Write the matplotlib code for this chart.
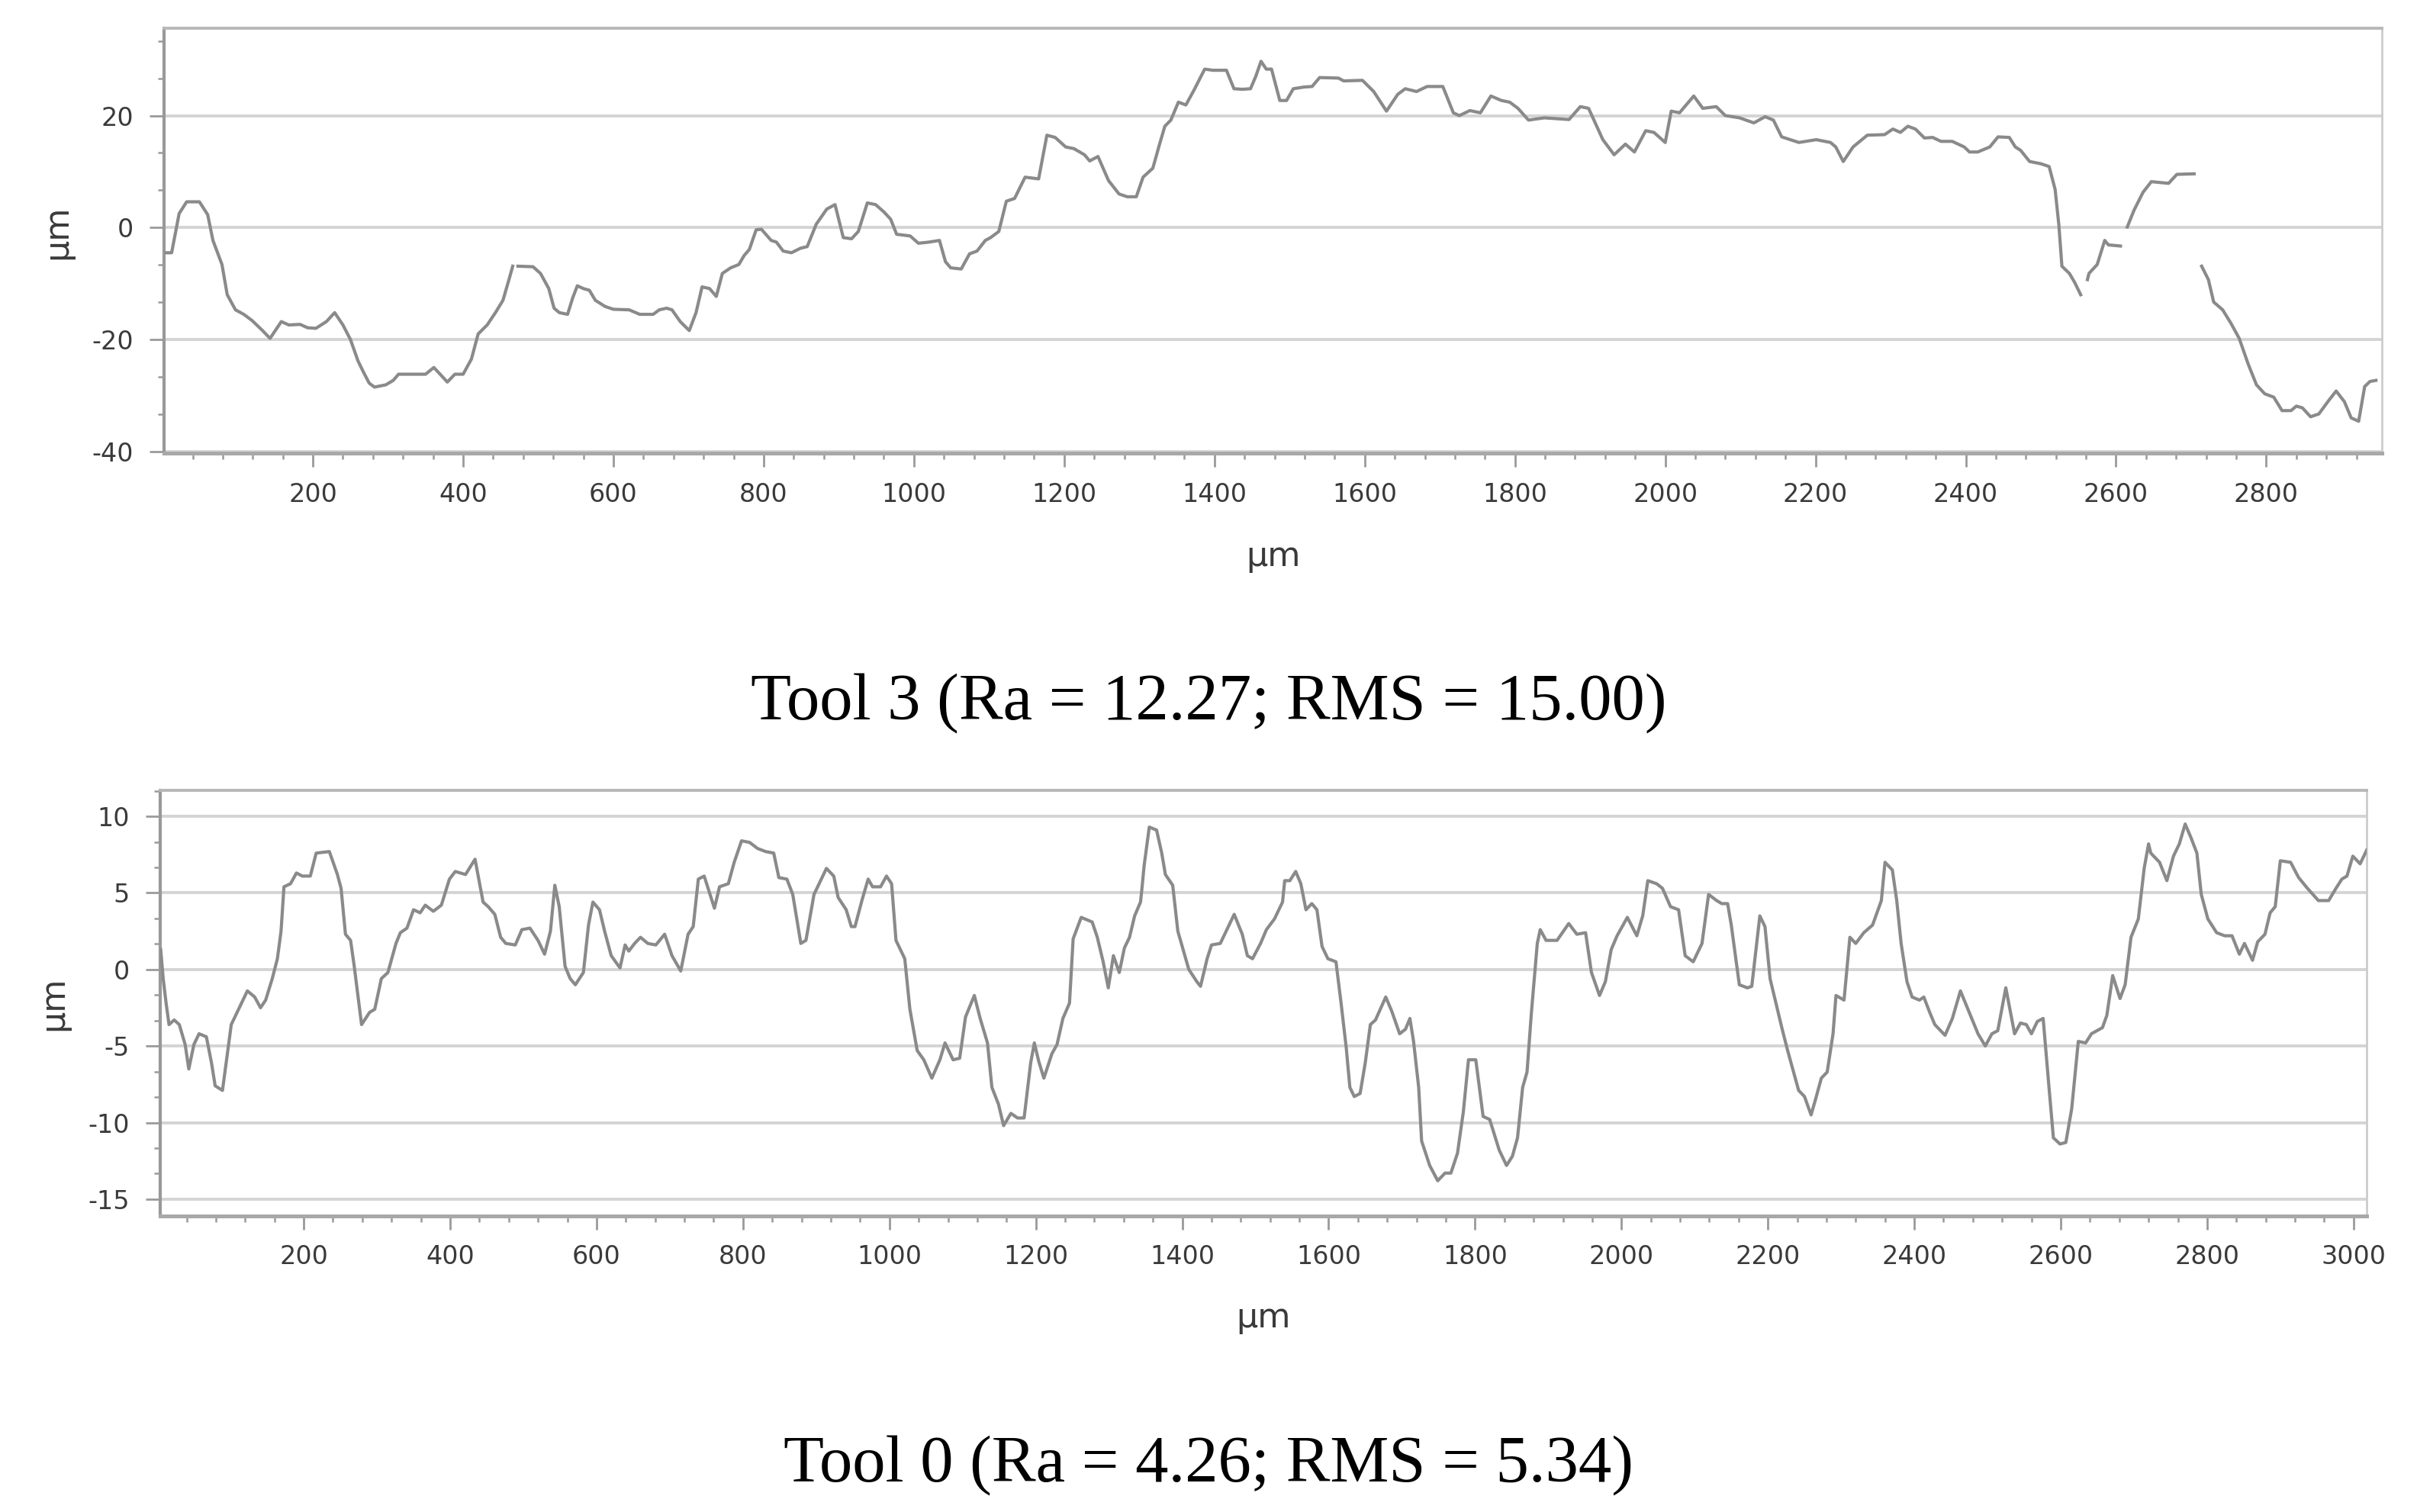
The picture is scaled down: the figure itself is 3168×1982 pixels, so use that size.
import numpy as np
import matplotlib
matplotlib.use("Agg")
import matplotlib.pyplot as plt
from matplotlib.ticker import MultipleLocator

plt.rcParams['axes.unicode_minus'] = False
plt.rcParams['font.family'] = ['DejaVu Sans']

nan = np.nan

# Tool 3 profile (x in um, height in um); nan marks gaps in the trace
tool3_x = [4.6, 12, 22, 32, 49, 60, 67, 79, 86, 97, 108, 119, 133, 143, 158, 168, 183, 193, 204, 218,
           229, 240, 250, 260, 268, 275, 282, 297, 307, 314, 350, 361, 368, 379, 389, 400, 411, 420, 432,
           443, 453, 461, 466, 469, 473, 493, 503, 514, 521, 528, 539, 546, 552, 560, 568, 576, 589, 600,
           621, 635, 653, 661, 671, 678, 689, 701, 710, 718, 728, 737, 745, 756, 767, 774, 781, 790, 797,
           810, 817, 826, 837, 849, 858, 870, 884, 895, 906, 917, 926, 938, 949, 960, 969, 977, 995, 1006,
           1020, 1034, 1042, 1049, 1063, 1074, 1084, 1095, 1102, 1113, 1123, 1134, 1148, 1166, 1177, 1188,
           1202, 1213, 1227, 1234, 1245, 1259, 1273, 1284, 1296, 1305, 1318, 1327, 1334, 1342, 1352, 1362,
           1373, 1387, 1398, 1416, 1426, 1437, 1448, 1455, 1462, 1469, 1476, 1487, 1496, 1505, 1519, 1530,
           1540, 1565, 1572, 1597, 1612, 1629, 1644, 1654, 1669, 1683, 1704, 1718, 1726, 1740, 1754, 1768,
           1782, 1793, 1804, 1818, 1839, 1872, 1887, 1898, 1917, 1932, 1947, 1959, 1974, 1985, 2000, 2008,
           2019, 2038, 2050, 2068, 2080, 2099, 2118, 2133, 2144, 2155, 2178, 2201, 2220, 2227, 2237, 2250,
           2269, 2292, 2303, 2313, 2323, 2333, 2345, 2356, 2367, 2382, 2398, 2405, 2416, 2432, 2443, 2458,
           2466, 2473, 2485, 2500, 2511, 2519, 2524, 2528, 2538, 2545, 2553, 2557, 2562, 2564, 2575, 2585,
           2590, 2606, 2610, 2615, 2624, 2636, 2647, 2670, 2681, 2704, 2709, 2714, 2723, 2730, 2742, 2753,
           2764, 2776, 2787, 2798, 2810, 2821, 2833, 2840, 2848, 2859, 2870, 2882, 2893, 2904, 2913, 2923,
           2931, 2938, 2946]
tool3_y = [-4.5, -4.5, 2.5, 4.6, 4.6, 2.3, -2.3, -6.6, -12, -14.7, -15.5, -16.6, -18.4, -19.8, -16.8,
           -17.4, -17.3, -17.9, -18, -16.8, -15.2, -17.4, -20, -23.8, -26, -27.8, -28.5, -28.1, -27.3,
           -26.2, -26.2, -25, -26, -27.6, -26.2, -26.2, -23.5, -19, -17.4, -15.2, -13, -9.3, -6.9, nan,
           -6.9, -7, -8.2, -10.9, -14.4, -15.2, -15.5, -12.5, -10.4, -10.9, -11.2, -13, -14.1, -14.6,
           -14.7, -15.5, -15.5, -14.7, -14.4, -14.7, -16.8, -18.4, -15.2, -10.6, -10.9, -12.3, -8.2, -7.2,
           -6.6, -5, -3.9, -0.4, -0.3, -2.3, -2.6, -4.2, -4.5, -3.7, -3.4, 0.6, 3.3, 4.1, -1.8, -2, -0.7,
           4.4, 4.1, 2.8, 1.5, -1.2, -1.5, -2.8, -2.6, -2.3, -6.1, -7.2, -7.4, -4.7, -4.2, -2.3, -1.8,
           -0.7, 4.7, 5.2, 9, 8.7, 16.5, 16.1, 14.4, 14.1, 13, 11.9, 12.7, 8.4, 6, 5.5, 5.5, 9, 10.6,
           14.9, 18.1, 19.2, 22.4, 21.9, 24.6, 28.3, 28.1, 28.1, 24.8, 24.7, 24.8, 27, 29.7, 28.3, 28.3,
           22.7, 22.7, 24.8, 25.1, 25.2, 26.8, 26.7, 26.2, 26.3, 24.3, 20.8, 23.8, 24.8, 24.3, 25.2, 25.2,
           20.5, 20, 20.9, 20.5, 23.5, 22.7, 22.4, 21.3, 19.2, 19.6, 19.3, 21.6, 21.3, 15.7, 13, 14.9,
           13.5, 17.3, 17, 15.2, 20.8, 20.5, 23.5, 21.3, 21.6, 20, 19.6, 18.7, 19.8, 19.2, 16.2, 15.2,
           15.7, 15.2, 14.4, 11.8, 14.4, 16.5, 16.6, 17.6, 17, 18.1, 17.6, 16, 16.1, 15.4, 15.4, 14.4,
           13.5, 13.5, 14.4, 16.2, 16.1, 14.4, 13.8, 11.8, 11.4, 10.9, 6.8, 0.4, -6.9, -8.2, -9.8, -12,
           nan, -9.3, -8.2, -6.6, -2.3, -3.1, -3.3, nan, 0.1, 3.1, 6.3, 8.2, 7.9, 9.5, 9.6, nan, -6.9,
           -9.3, -13.3, -14.7, -17.1, -19.8, -24.4, -28.1, -29.7, -30.3, -32.7, -32.7, -31.9, -32.2,
           -33.8, -33.3, -31.1, -29.2, -31.1, -34, -34.6, -28.4, -27.5, -27.3]

# Tool 0 profile
tool0_x = [4.6, 8, 12, 16, 23, 30, 38, 43, 50, 57, 67, 74, 79, 89, 94, 101, 111, 123, 133, 141, 148,
           157, 164, 169, 173, 182, 190, 198, 209, 217, 235, 246, 251, 257, 264, 269, 279, 290, 297, 306,
           315, 326, 332, 341, 350, 359, 366, 377, 388, 399, 407, 421, 434, 445, 452, 461, 469, 476, 489,
           498, 509, 520, 529, 537, 543, 549, 557, 564, 571, 582, 589, 595, 604, 611, 620, 632, 639, 644,
           652, 660, 670, 681, 693, 703, 715, 725, 732, 739, 747, 761, 768, 780, 788, 798, 809, 820, 831,
           842, 849, 860, 868, 879, 886, 897, 914, 924, 930, 941, 948, 953, 963, 971, 977, 988, 996, 1003,
           1009, 1021, 1028, 1038, 1047, 1058, 1069, 1076, 1087, 1096, 1104, 1116, 1124, 1134, 1140, 1149,
           1156, 1166, 1175, 1184, 1193, 1198, 1204, 1211, 1222, 1229, 1237, 1246, 1251, 1262, 1277, 1284,
           1292, 1299, 1306, 1314, 1321, 1328, 1335, 1343, 1345, 1348, 1355, 1365, 1372, 1377, 1387, 1394,
           1409, 1420, 1425, 1434, 1440, 1452, 1462, 1471, 1482, 1489, 1496, 1507, 1515, 1526, 1537, 1540,
           1547, 1555, 1562, 1569, 1577, 1584, 1591, 1599, 1610, 1617, 1624, 1629, 1635, 1643, 1650, 1657,
           1664, 1678, 1686, 1697, 1705, 1711, 1716, 1723, 1727, 1738, 1749, 1759, 1767, 1776, 1784, 1791,
           1801, 1811, 1820, 1833, 1843, 1851, 1858, 1865, 1871, 1877, 1885, 1889, 1897, 1912, 1928, 1939,
           1951, 1959, 1970, 1978, 1986, 1994, 2008, 2021, 2029, 2036, 2048, 2056, 2067, 2078, 2087, 2098,
           2110, 2119, 2130, 2137, 2145, 2150, 2161, 2172, 2178, 2189, 2196, 2203, 2211, 2219, 2227, 2242,
           2250, 2259, 2265, 2273, 2281, 2289, 2293, 2304, 2312, 2320, 2331, 2343, 2355, 2360, 2370, 2376,
           2382, 2390, 2397, 2407, 2413, 2421, 2428, 2442, 2452, 2463, 2475, 2487, 2497, 2506, 2514, 2525,
           2537, 2545, 2553, 2560, 2568, 2576, 2584, 2590, 2599, 2607, 2615, 2624, 2634, 2642, 2657, 2663,
           2671, 2681, 2688, 2696, 2706, 2714, 2720, 2723, 2735, 2745, 2754, 2762, 2770, 2778, 2786, 2792,
           2801, 2813, 2824, 2834, 2844, 2851, 2862, 2869, 2879, 2886, 2893, 2900, 2914, 2925, 2937, 2952,
           2966, 2976, 2984, 2991, 2999, 3009, 3018]
tool0_y = [1.3, -0.6, -2.2, -3.6, -3.3, -3.6, -4.9, -6.5, -4.9, -4.2, -4.4, -6.1, -7.6, -7.9, -6.1,
           -3.6, -2.6, -1.4, -1.8, -2.5, -2, -0.6, 0.7, 2.5, 5.4, 5.6, 6.3, 6.1, 6.1, 7.6, 7.7, 6.2, 5.3,
           2.3, 1.9, 0.2, -3.6, -2.8, -2.6, -0.6, -0.2, 1.7, 2.4, 2.7, 3.9, 3.7, 4.2, 3.8, 4.2, 5.9, 6.4,
           6.2, 7.2, 4.4, 4.1, 3.6, 2.1, 1.7, 1.6, 2.6, 2.7, 1.9, 1, 2.5, 5.5, 4.1, 0.2, -0.6, -1, -0.2,
           2.9, 4.4, 3.9, 2.5, 0.9, 0.1, 1.6, 1.2, 1.7, 2.1, 1.7, 1.6, 2.3, 0.9, -0.1, 2.3, 2.8, 5.9, 6.1,
           4, 5.4, 5.6, 7, 8.4, 8.3, 7.9, 7.7, 7.6, 6, 5.9, 4.9, 1.7, 1.9, 4.9, 6.6, 6.1, 4.7, 3.9, 2.8,
           2.8, 4.6, 5.9, 5.4, 5.4, 6.1, 5.6, 1.9, 0.7, -2.6, -5.3, -5.9, -7.1, -5.9, -4.8, -5.9, -5.8,
           -3.1, -1.7, -3.2, -4.8, -7.7, -8.8, -10.2, -9.4, -9.7, -9.7, -6.1, -4.8, -6, -7.1, -5.5, -4.9,
           -3.2, -2.2, 2, 3.4, 3.1, 2.1, 0.5, -1.2, 0.9, -0.2, 1.4, 2.1, 3.5, 4.4, 5.3, 6.8, 9.3, 9.1,
           7.6, 6.2, 5.5, 2.5, 0, -0.8, -1.1, 0.7, 1.6, 1.7, 2.7, 3.6, 2.3, 0.9, 0.7, 1.7, 2.6, 3.3, 4.4,
           5.8, 5.8, 6.4, 5.6, 3.9, 4.3, 3.9, 1.5, 0.7, 0.5, -2.2, -5.1, -7.7, -8.3, -8.1, -6.1, -3.6,
           -3.3, -1.8, -2.7, -4.2, -3.9, -3.2, -4.7, -7.7, -11.2, -12.8, -13.8, -13.3, -13.3, -12, -9.3,
           -5.9, -5.9, -9.6, -9.8, -11.8, -12.8, -12.2, -11, -7.7, -6.7, -2.8, 1.7, 2.6, 1.9, 1.9, 3, 2.3,
           2.4, -0.2, -1.7, -0.8, 1.3, 2.2, 3.4, 2.2, 3.5, 5.8, 5.6, 5.3, 4.1, 3.9, 0.9, 0.5, 1.7, 4.9,
           4.5, 4.3, 4.3, 2.9, -1, -1.2, -1.1, 3.5, 2.8, -0.6, -2.2, -3.8, -5.3, -7.9, -8.3, -9.5, -8.5,
           -7.1, -6.7, -4.2, -1.7, -2, 2.1, 1.7, 2.4, 2.9, 4.5, 7, 6.5, 4.5, 1.7, -0.8, -1.8, -2, -1.8,
           -2.8, -3.6, -4.3, -3.2, -1.4, -2.8, -4.2, -5, -4.2, -4, -1.2, -4.2, -3.5, -3.6, -4.2, -3.4,
           -3.2, -7.7, -11, -11.4, -11.3, -9.1, -4.7, -4.8, -4.2, -3.8, -3, -0.4, -1.9, -1, 2.1, 3.3, 6.6,
           8.2, 7.6, 7, 5.8, 7.4, 8.2, 9.5, 8.6, 7.6, 4.9, 3.3, 2.4, 2.2, 2.2, 1, 1.7, 0.6, 1.8, 2.3, 3.7,
           4.1, 7.1, 7, 6, 5.3, 4.5, 4.5, 5.3, 5.9, 6.1, 7.4, 6.9, 7.8]

tool3_xticks = list(range(200, 2801, 200))
tool0_xticks = list(range(200, 3001, 200))
tool3_yticks = [-40, -20, 0, 20]
tool0_yticks = [-15, -10, -5, 0, 5, 10]

title3 = "Tool 3 (Ra = 12.27; RMS = 15.00)"
title0 = "Tool 0 (Ra = 4.26; RMS = 5.34)"

line_col = '#8a8a8a'
grid_col = '#d4d4d4'
tick_col = '#9a9a9a'
text_col = '#3a3a3a'

fig = plt.figure(figsize=(15.84, 9.91), dpi=200)
ax1 = fig.add_axes([0.0679, 0.7003, 0.9176, 0.2810])
ax2 = fig.add_axes([0.0663, 0.1958, 0.9129, 0.2815])


def style(ax, xticks, yticks, xlim, ylim, yminor, xlab_y, ylab_x, ylab_y):
    ax.set_xlim(*xlim)
    ax.set_ylim(*ylim)
    ax.set_xticks(xticks)
    ax.set_yticks(yticks)
    ax.xaxis.set_minor_locator(MultipleLocator(40))
    ax.yaxis.set_minor_locator(MultipleLocator(yminor))
    for yv in yticks:
        ax.axhline(yv, color=grid_col, lw=1.4, zorder=1)
    ax.tick_params(axis='both', which='major', labelsize=12, colors=tick_col,
                   labelcolor=text_col, width=1.0)
    ax.tick_params(axis='x', which='major', length=6.5, pad=7)
    ax.tick_params(axis='y', which='major', length=7, pad=7.5)
    ax.tick_params(axis='both', which='minor', length=3, colors=tick_col, width=0.9)
    ax.spines['left'].set_color('#999999')
    ax.spines['left'].set_linewidth(1.5)
    ax.spines['bottom'].set_color('#a8a8a8')
    ax.spines['bottom'].set_linewidth(1.8)
    ax.spines['top'].set_color('#b8b8b8')
    ax.spines['top'].set_linewidth(1.4)
    ax.spines['right'].set_color('#cccccc')
    ax.spines['right'].set_linewidth(1.0)
    ax.set_xlabel('μm', fontsize=16, color=text_col)
    ax.set_ylabel('μm', fontsize=16, color=text_col)
    ax.xaxis.set_label_coords(0.5, xlab_y)
    ax.yaxis.set_label_coords(ylab_x, ylab_y)


ax1.plot(tool3_x, tool3_y, color=line_col, lw=1.5, zorder=3)
style(ax1, tool3_xticks, tool3_yticks, (2, 2954), (-40.3, 35.6), 20 / 3, -0.205, -0.041, 0.52)

ax2.plot(tool0_x, tool0_y, color=line_col, lw=1.5, zorder=3)
style(ax2, tool0_xticks, tool0_yticks, (4, 3018), (-16.1, 11.7), 5 / 3, -0.2, -0.041, 0.5)

fig.text(0.5, 1 - 923 / 1982, title3, ha='center', va='center', fontsize=31.2,
         family='Liberation Serif', color='black')
fig.text(0.5, 1 - 1922 / 1982, title0, ha='center', va='center', fontsize=31.2,
         family='Liberation Serif', color='black')

fig.savefig('out.png', dpi=200, facecolor='white')
